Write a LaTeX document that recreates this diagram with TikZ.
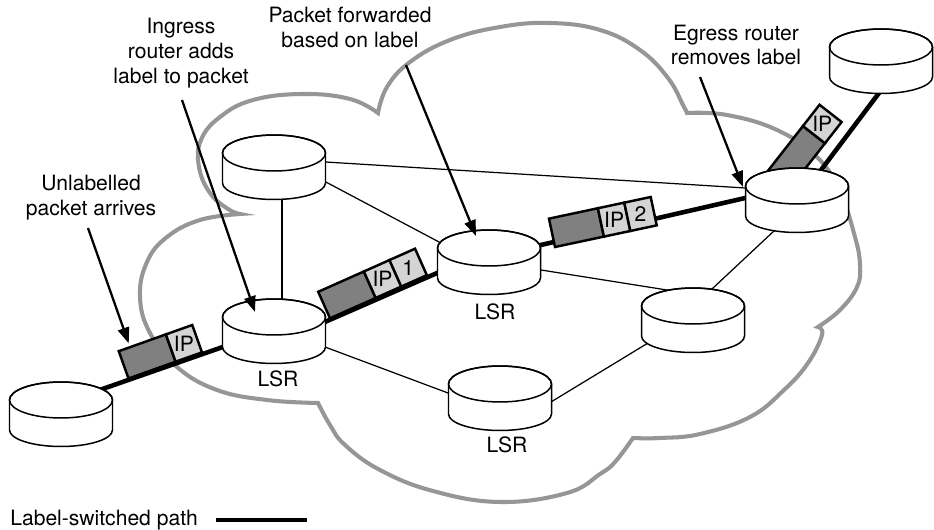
\documentclass[tikz,border=0pt]{standalone}
\usepackage{fontspec}
\setmainfont{TeX Gyre Heros}
\usetikzlibrary{arrows.meta,calc}

\definecolor{cloudgray}{RGB}{150,150,150}
\definecolor{pktdark}{RGB}{128,128,128}
\definecolor{pktlight}{RGB}{212,212,212}

\tikzset{
  cloud/.style={draw=cloudgray, line width=2.3pt, line join=miter, miter limit=25},
  lsp/.style={line width=2.6pt},
  link/.style={line width=0.7pt},
  rtr/.style={line width=0.85pt},
  pkt/.style={draw=black, line width=1.4pt, line join=miter},
  pktbody/.style={pkt, fill=pktdark},
  pkthdr/.style={pkt, fill=pktlight},
  txt/.style={font=\fontsize{12}{14.2}\selectfont, align=center, inner sep=0pt},
  pointer/.style={line width=1.3pt, -{Triangle[length=9pt, width=6.5pt]}},
  % a router drawn as a short upright cylinder, origin at the centre of its top face
  router/.pic={
    \path[rtr, draw, fill=white] (-51.5,0) -- (-51.5,30)
      arc[start angle=180, end angle=0, x radius=51.5, y radius=16.5]
      -- (51.5,0)
      arc[start angle=0, end angle=-180, x radius=51.5, y radius=18] -- cycle;
    \draw[rtr] (0,0) ellipse[x radius=51.5, y radius=18];
  }
}

\begin{document}
\begin{tikzpicture}[x=0.02cm, y=-0.02cm]
\useasboundingbox (0,0) rectangle (934,530);
\fill[white] (0,0) rectangle (934,530);

% network cloud, one lobe per smooth run
\draw[cloud]
  plot[smooth, tension=0.7] coordinates {(240,214) (228,209) (210,193) (199,167) (201,140) (220,117) (253,100) (303,94) (350,99) (378,113)}
  -- plot[smooth, tension=0.7] coordinates {(378,113) (387,87) (410,62) (450,40) (500,27) (550,23) (600,30) (640,50) (668,78) (683,105) (687,113)}
  -- plot[smooth, tension=0.7] coordinates {(687,113) (727,115) (777,130) (817,157) (840,192) (855,237) (860,265) (857,287) (840,310) (818,327)}
  -- plot[smooth, tension=0.7] coordinates {(818,327) (822,335) (808,363) (784,390) (750,417) (700,434) (660,438) (633,438)}
  -- plot[smooth, tension=0.7] coordinates {(633,438) (615,462) (600,474) (567,493) (500,502) (433,491) (380,470) (345,445) (330,425) (318,403)}
  -- plot[smooth, tension=0.7] coordinates {(318,403) (267,400) (217,390) (177,367) (150,333) (140,297) (147,262) (167,237) (200,220) (240,214)}
  -- cycle;

% router positions (centre of the top face)
\coordinate (X)  at (61,400);
\coordinate (A)  at (274,153);
\coordinate (L1) at (274,317);
\coordinate (L2) at (489,248);
\coordinate (L3) at (500,384);
\coordinate (R)  at (693,306);
\coordinate (E)  at (797,186);
\coordinate (T)  at (881,47);

% ordinary links
\draw[link] ($(A)+(8,40)$)      -- ($(L1)+(8,-10)$);
\draw[link] ($(A)+(42,8.4)$)    -- ($(E)+(-42,2.6)$);
\draw[link] ($(A)+(43,24.3)$)   -- ($(L2)+(-43,-2.3)$);
\draw[link] ($(L1)+(41.6,26.5)$) -- ($(L3)+(-42.6,12.5)$);
\draw[link] ($(L2)+(42,20.4)$)  -- ($(R)+(-16,-14.4)$);
\draw[link] ($(L3)+(42.4,23.2)$) -- ($(R)+(-36.4,31.8)$);
\draw[link] ($(E)+(-14.7,37.2)$) -- ($(R)+(11.7,-10.2)$);

% label-switched path
\draw[lsp] ($(X)+(30,-7)$)    -- ($(L1)+(-34,24)$);
\draw[lsp] ($(L1)+(36,11.5)$) -- ($(L2)+(-37,18.5)$);
\draw[lsp] ($(L2)+(37,0.4)$)  -- ($(E)+(-37,8.6)$);
\draw[lsp] ($(E)+(15,-4)$)    -- ($(T)+(1,42)$);

% packets travelling along the path
\begin{scope}[shift={(128.5,378.5)}, rotate=19.6]
  \draw[pktbody] (0,0) rectangle (50,-29);
  \draw[pkthdr] (50,0) rectangle (78,-29);
  \node[txt] (ip1) at (64,-14.5) {IP};
  \coordinate (p1top) at (12,-33);
\end{scope}
\begin{scope}[shift={(330,318.3)}, rotate=24]
  \draw[pktbody] (0,0) rectangle (50,-29);
  \draw[pkthdr] (50,0) rectangle (78,-29);
  \draw[pkthdr] (78,0) rectangle (106,-29);
  \node[txt] (ip2) at (64,-14.5) {IP};
  \node[txt] (lab1) at (92,-14.5) {1};
\end{scope}
\begin{scope}[shift={(555,247)}, rotate=12]
  \draw[pktbody] (0,0) rectangle (50,-29);
  \draw[pkthdr] (50,0) rectangle (77,-29);
  \draw[pkthdr] (77,0) rectangle (104,-29);
  \node[txt] (ip3) at (63.5,-14.5) {IP};
  \node[txt] (lab2) at (90.5,-14.5) {2};
\end{scope}
\begin{scope}[shift={(794.2,182.7)}, rotate=52]
  \draw[pktbody] (-10,0) rectangle (50,-28);
  \draw[pkthdr] (50,0) rectangle (77,-28);
  \node[txt] (ip4) at (63.5,-14) {IP};
\end{scope}

% routers
\pic at (X)  {router};
\pic at (A)  {router};
\pic at (L1) {router};
\pic at (L2) {router};
\pic at (L3) {router};
\pic at (R)  {router};
\pic at (E)  {router};
\pic at (T)  {router};

\node[txt] (lsr1) at (278,379) {LSR};
\node[txt] (lsr2) at (495,312) {LSR};
\node[txt] (lsr3) at (507,445) {LSR};

% annotations
\node[txt] (tUnlab)   at (91,198)  {Unlabelled\\packet arrives};
\node[txt] (tIngress) at (181,53)  {Ingress\\router adds\\label to packet};
\node[txt] (tFwd)     at (350,27)  {Packet forwarded\\based on label};
\node[txt] (tEgress)  at (736,45)  {Egress router\\removes label};

\coordinate (sUnlab)   at (88,228);
\coordinate (sIngress) at (182,100);
\coordinate (sFwd)     at (406,65);
\coordinate (sEgress)  at (700,77);
\draw[pointer] (sUnlab)   -- (p1top);
\draw[pointer] (sIngress) -- ($(L1)+(-19,-5)$);
\draw[pointer] (sFwd)     -- ($(L2)+(-13,-12)$);
\draw[pointer] (sEgress)  -- ($(E)+(-54,1)$);

% legend
\node[txt, anchor=west] (tLegend) at (10,520) {Label-switched path};
\coordinate (legA) at (216,520);
\coordinate (legB) at (307,520);
\draw[lsp] (legA) -- (legB);
\end{tikzpicture}
\end{document}
